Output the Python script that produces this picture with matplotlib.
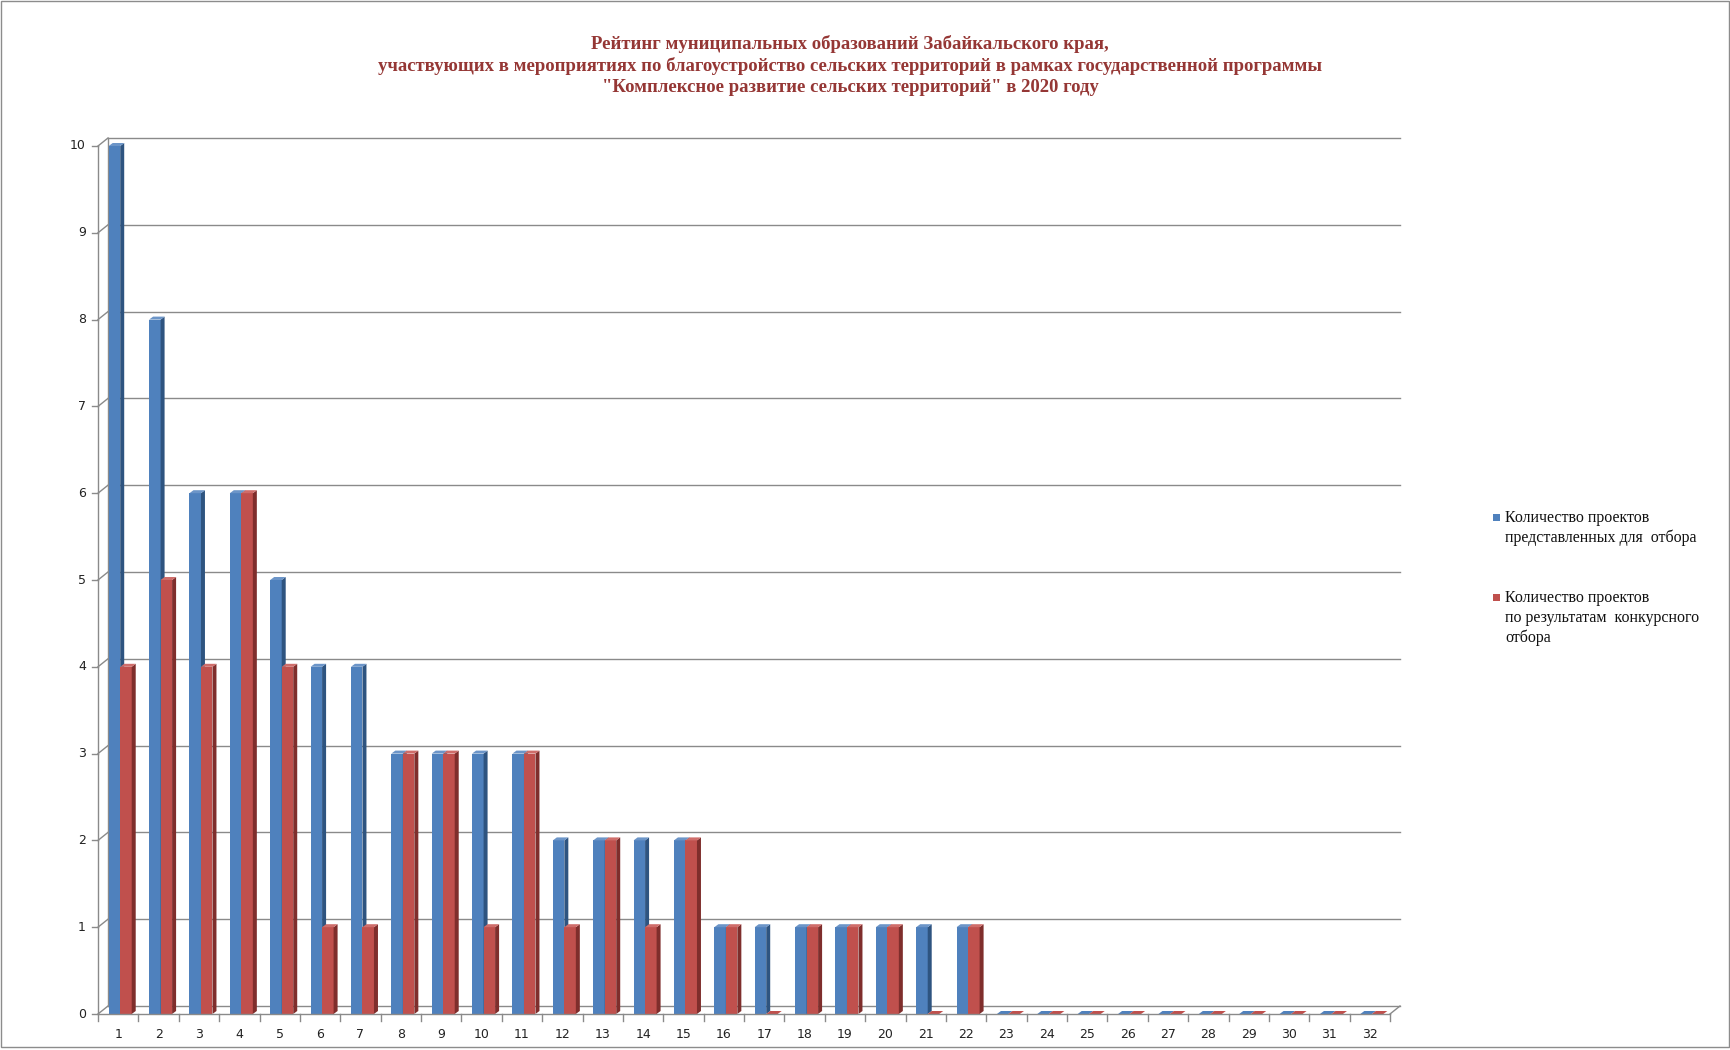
import numpy as np
import matplotlib.pyplot as plt
from matplotlib.patches import Polygon, Rectangle

# data
categories = list(range(1, 33))
submitted = [10, 8, 6, 6, 5, 4, 4, 3, 3, 3, 3, 2, 2, 2, 2, 1, 1, 1, 1, 1, 1, 1,
             0, 0, 0, 0, 0, 0, 0, 0, 0, 0]
selected = [4, 5, 4, 6, 4, 1, 1, 3, 3, 1, 3, 1, 2, 1, 2, 1, 0, 1, 1, 1, 0, 1,
            0, 0, 0, 0, 0, 0, 0, 0, 0, 0]
y_ticks = list(range(0, 11))
series_names = ["Количество проектов\nпредставленных для  отбора",
                "Количество проектов\nпо результатам  конкурсного\nотбора"]
title = ("Рейтинг муниципальных образований Забайкальского края,\n"
         "участвующих в мероприятиях по благоустройство сельских территорий в рамках государственной программы\n"
         "\"Комплексное развитие сельских территорий\" в 2020 году")

W, H = 1730, 1050
fig = plt.figure(figsize=(W / 100, H / 100), dpi=100)

# axes placed in pixels: x from 98 to 1390, y zero at 1014, ten at 146
left, right, y0px, y10px = 98, 1390, 1014, 146
ax = fig.add_axes([left / W, (H - y0px) / H, (right - left) / W, (y0px - y10px) / H])
ax.set_xlim(0.5, 32.5)
ax.set_ylim(0, 10)
ax.axis('off')

px_x = 32 / (right - left)      # data units per pixel
px_y = 10 / (y0px - y10px)

grid_c = '#8a8a8a'
# back wall offset and bar depth
bx, by = 10 * px_x, 8 * px_y
dx, dy = 4 * px_x, 3 * px_y

# back wall grid lines and connectors
for v in y_ticks:
    ax.plot([0.5 + bx, 32.5 + bx], [v + by, v + by], color=grid_c, lw=1.0, clip_on=False, zorder=0)
    ax.plot([0.5, 0.5 + bx], [v, v + by], color=grid_c, lw=1.0, clip_on=False, zorder=0)
    ax.plot([0.5 - 6 * px_x, 0.5], [v, v], color=grid_c, lw=1.0, clip_on=False, zorder=0)
    ax.text(0.5 - 12 * px_x, v, str(v), ha='right', va='center', fontsize=9, color='#222222')
ax.plot([0.5 + bx, 0.5 + bx], [by, 10 + by], color=grid_c, lw=1.0, clip_on=False, zorder=0)
ax.plot([0.5, 0.5], [0, 10], color=grid_c, lw=1.0, clip_on=False, zorder=0)
# floor
ax.plot([0.5, 32.5], [0, 0], color=grid_c, lw=1.0, clip_on=False, zorder=5)
ax.plot([32.5, 32.5 + bx], [0, by], color=grid_c, lw=1.0, clip_on=False, zorder=5)
for b in np.arange(0.5, 33, 1):
    ax.plot([b, b], [0, -7 * px_y], color=grid_c, lw=1.0, clip_on=False, zorder=5)
for c in categories:
    ax.text(c, -20 * px_y, str(c), ha='center', va='center', fontsize=9, color='#222222')

w = 0.285
x = np.array(categories, dtype=float)
series = [
    (submitted, x - 0.235, '#4F81BD', '#2E5480', '#6C95C8', 2),
    (selected, x + 0.05, '#C0504D', '#7F2E2C', '#CF6D6A', 3),
]
for vals, xs, front, side, top, z in series:
    ax.bar(xs, vals, width=w, align='edge', color=front, edgecolor='none', zorder=z)
    for x0, h in zip(xs, vals):
        ax.add_patch(Polygon([(x0 + w, 0), (x0 + w, h), (x0 + w + dx, h + dy), (x0 + w + dx, dy)],
                             closed=True, facecolor=side, edgecolor='none', zorder=z, clip_on=False))
        ax.add_patch(Polygon([(x0, h), (x0 + w, h), (x0 + w + dx, h + dy), (x0 + dx, h + dy)],
                             closed=True, facecolor=top if h > 0 else front, edgecolor='none',
                             zorder=z, clip_on=False))

# title
fig.text(850 / W, 1 - 35 / H, title, ha='center', va='top', fontsize=13.5, fontweight='bold',
         family='Liberation Serif', color='#953735', linespacing=1.28)

# legend drawn by hand
leg = [(series_names[0], '#4F81BD', 510), (series_names[1], '#C0504D', 590)]
for label, col, ytop in leg:
    fig.patches.append(Rectangle((1493 / W, 1 - (ytop + 11) / H), 7 / W, 7 / H,
                                 transform=fig.transFigure, facecolor=col, edgecolor='none'))
    fig.text(1505 / W, 1 - ytop / H, label, ha='left', va='top', fontsize=11.5,
             family='Liberation Serif', color='#111111', linespacing=1.3)

# chart border
fig.patches.append(Rectangle((0.5 / W, 3 / H), (W - 2) / W, (H - 4) / H, transform=fig.transFigure,
                             facecolor='none', edgecolor='#8c8c8c', lw=1.0))

fig.savefig('out.png', dpi=100)
